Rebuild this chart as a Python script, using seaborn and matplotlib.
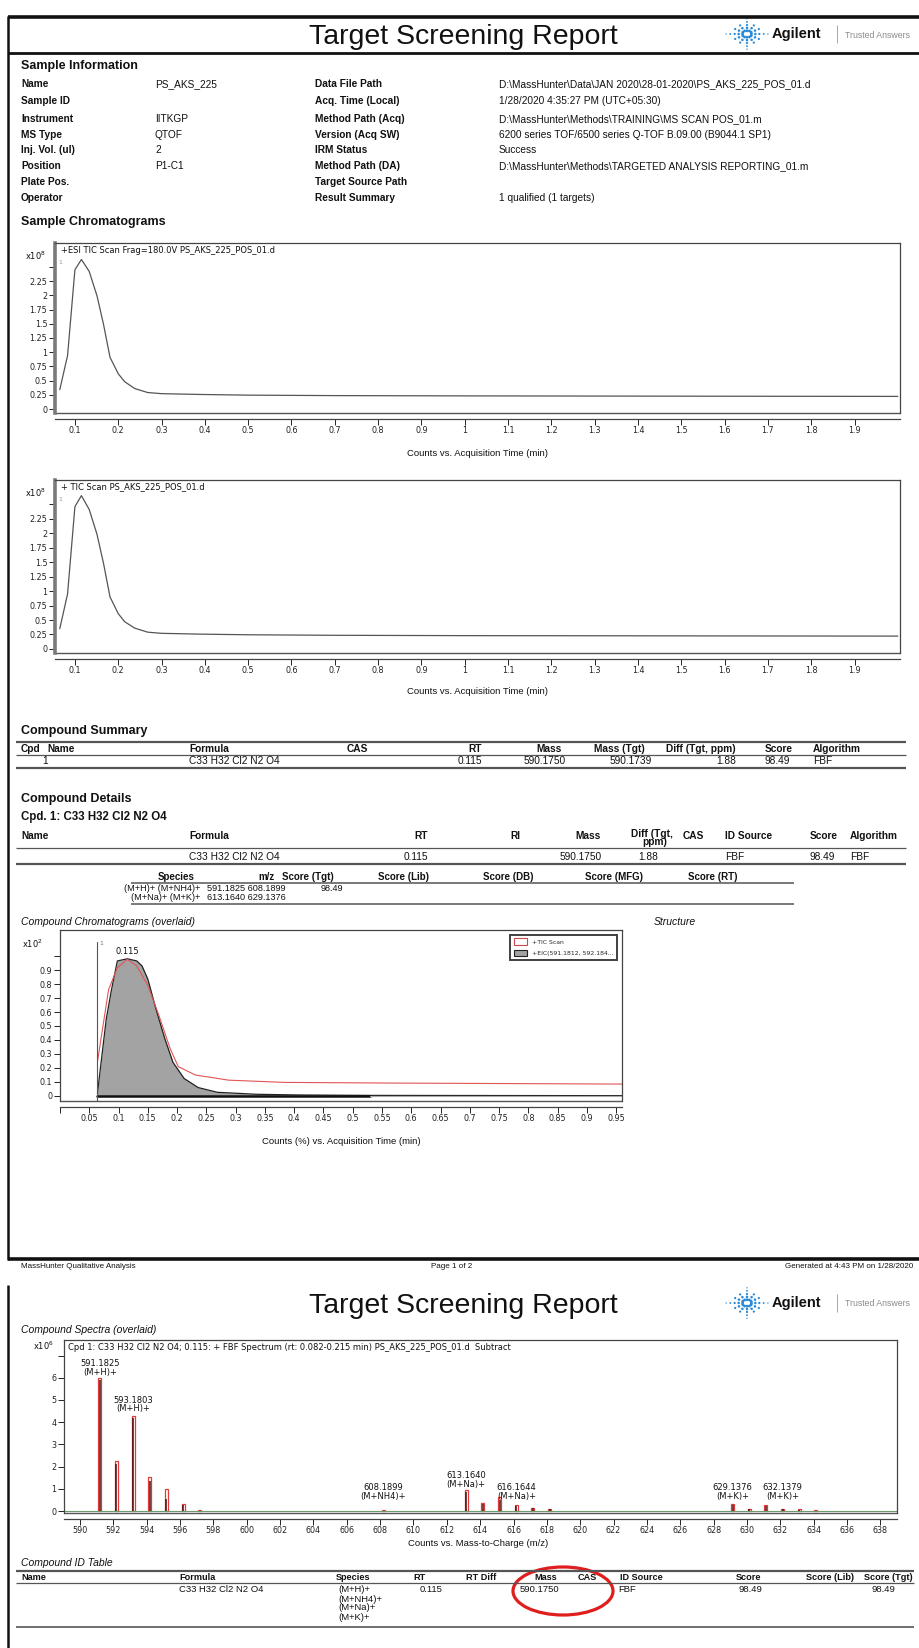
import matplotlib
matplotlib.use("Agg")
import matplotlib.pyplot as plt
from matplotlib.lines import Line2D
from matplotlib.patches import Ellipse, Patch
import numpy as np
import seaborn as sns

# ---------------- data ----------------
# Sample chromatogram 1: +ESI TIC (counts x1e8)
esi_time = [0.065, 0.083, 0.100, 0.115, 0.133, 0.151, 0.166, 0.181, 0.200, 0.215,
            0.238, 0.268, 0.300, 0.390, 0.500, 0.700, 1.000, 1.300, 1.600, 2.000]
esi_counts = [0.34, 0.94, 2.45, 2.63, 2.42, 1.99, 1.49, 0.91, 0.62, 0.48,
              0.36, 0.29, 0.27, 0.256, 0.244, 0.236, 0.231, 0.228, 0.225, 0.222]
# Sample chromatogram 2: + TIC Scan (counts x1e8)
scan_time = [0.065, 0.083, 0.100, 0.115, 0.133, 0.151, 0.166, 0.181, 0.200, 0.215,
             0.238, 0.268, 0.300, 0.390, 0.500, 0.700, 1.000, 1.300, 1.600, 2.000]
scan_counts = [0.35, 0.95, 2.46, 2.65, 2.41, 1.98, 1.48, 0.90, 0.61, 0.47,
               0.36, 0.29, 0.27, 0.256, 0.245, 0.236, 0.230, 0.228, 0.225, 0.222]
time_ticks = [0.1, 0.2, 0.3, 0.4, 0.5, 0.6, 0.7, 0.8, 0.9, 1.0,
              1.1, 1.2, 1.3, 1.4, 1.5, 1.6, 1.7, 1.8, 1.9]
count_ticks = [0, 0.25, 0.5, 0.75, 1, 1.25, 1.5, 1.75, 2, 2.25]

# Compound chromatograms (overlaid), counts in % (x1e2)
eic_time = [0.064, 0.079, 0.088, 0.098, 0.115, 0.131, 0.140, 0.150, 0.164, 0.179,
            0.193, 0.212, 0.236, 0.269, 0.336, 0.410, 0.530, 0.960]
eic_pct = [0.02, 0.55, 0.76, 0.965, 0.98, 0.965, 0.93, 0.835, 0.62, 0.41,
           0.24, 0.125, 0.06, 0.026, 0.012, 0.007, 0.004, 0.002]
tic_time = [0.064, 0.083, 0.098, 0.115, 0.131, 0.150, 0.169, 0.188, 0.202, 0.231,
            0.288, 0.383, 0.574, 0.960]
tic_pct = [0.245, 0.76, 0.917, 0.976, 0.93, 0.79, 0.575, 0.34, 0.21, 0.15,
           0.113, 0.097, 0.092, 0.085]
ovl_time_ticks = [0.0, 0.05, 0.1, 0.15, 0.2, 0.25, 0.3, 0.35, 0.4, 0.45, 0.5,
                  0.55, 0.6, 0.65, 0.7, 0.75, 0.8, 0.85, 0.9, 0.95]
pct_ticks = [0, 0.1, 0.2, 0.3, 0.4, 0.5, 0.6, 0.7, 0.8, 0.9]
peak_rt = 0.115

# Compound spectrum (counts x1e6)
spec_mz = [591.1825, 592.185, 593.1803, 594.183, 595.180, 596.182, 597.18, 608.1899,
           613.1640, 614.167, 615.162, 616.1644, 617.167, 618.165, 629.1376, 630.140,
           631.135, 632.1379, 633.140, 634.140]
spec_fbf = [6.0, 2.26, 4.3, 1.53, 0.98, 0.33, 0.04, 0.04,
            0.93, 0.34, 0.62, 0.25, 0.15, 0.10, 0.30, 0.08,
            0.28, 0.08, 0.10, 0.03]
spec_sub = [5.9, 2.10, 4.2, 1.35, 0.55, 0.28, 0.02, 0.02,
            0.85, 0.30, 0.50, 0.22, 0.12, 0.08, 0.25, 0.08,
            0.22, 0.08, 0.06, 0.02]
label_mz = [591.1825, 593.1803, 608.1899, 613.1640, 616.1644, 629.1376, 632.1379]
label_species = ["(M+H)+", "(M+H)+", "(M+NH4)+", "(M+Na)+", "(M+Na)+", "(M+K)+", "(M+K)+"]
label_base = [6.05, 4.40, 0.45, 1.00, 0.45, 0.45, 0.45]
mz_ticks = list(range(590, 640, 2))
spec_ticks = [0, 1, 2, 3, 4, 5, 6]

# Report text
info_labels_1 = ["Name", "Sample ID", "Instrument", "MS Type", "Inj. Vol. (ul)",
                 "Position", "Plate Pos.", "Operator"]
info_values_1 = ["PS_AKS_225", "", "IITKGP", "QTOF", "2", "P1-C1", "", ""]
info_labels_2 = ["Data File Path", "Acq. Time (Local)", "Method Path (Acq)",
                 "Version (Acq SW)", "IRM Status", "Method Path (DA)",
                 "Target Source Path", "Result Summary"]
info_values_2 = ["D:\\MassHunter\\Data\\JAN 2020\\28-01-2020\\PS_AKS_225_POS_01.d",
                 "1/28/2020 4:35:27 PM (UTC+05:30)",
                 "D:\\MassHunter\\Methods\\TRAINING\\MS SCAN POS_01.m",
                 "6200 series TOF/6500 series Q-TOF B.09.00 (B9044.1 SP1)",
                 "Success",
                 "D:\\MassHunter\\Methods\\TARGETED ANALYSIS REPORTING_01.m",
                 "", "1 qualified (1 targets)"]
formula = "C33 H32 Cl2 N2 O4"

# ---------------- figure setup ----------------
W, H = 920, 1648
sns.set_theme(style="white")
BODY = ["Liberation Sans", "DejaVu Sans"]
CHART = ["DejaVu Sans"]
plt.rcParams["font.family"] = BODY
plt.rcParams["mathtext.default"] = "regular"

fig = plt.figure(figsize=(W / 100, H / 100), dpi=100)
fig.patch.set_facecolor("white")


def fx(x):
    return x / W


def fy(y):
    return 1 - y / H


def txt(x, y, s, size=7.3, weight="normal", ha="left", va="center",
        style="normal", color="#111111", family=None):
    fig.text(fx(x), fy(y), s, fontsize=size, fontweight=weight, ha=ha, va=va,
             fontstyle=style, color=color, family=family or BODY)


def hline(x0, x1, y, lw=1.0, color="#222222"):
    fig.add_artist(Line2D([fx(x0), fx(x1)], [fy(y), fy(y)], lw=lw, color=color,
                          transform=fig.transFigure, solid_capstyle="butt"))


def vline(x, y0, y1, lw=1.0, color="#222222"):
    fig.add_artist(Line2D([fx(x), fx(x)], [fy(y0), fy(y1)], lw=lw, color=color,
                          transform=fig.transFigure, solid_capstyle="butt"))


def add_ax(x0, y0, x1, y1):
    return fig.add_axes([fx(x0), fy(y1), (x1 - x0) / W, (y1 - y0) / H])


def logo(cx, cy):
    ax = fig.add_axes([fx(cx - 22), fy(cy + 16), 44 / W, 32 / H])
    ax.set_xlim(-1, 1)
    ax.set_ylim(-1, 1)
    ax.axis("off")
    pts_x, pts_y, sizes = [], [], []
    for k in range(12):
        ang = np.pi * k / 6
        long_ray = k % 3 == 0
        radii = [0.2, 0.38, 0.56, 0.76, 0.95] if long_ray else [0.22, 0.42, 0.62]
        for j, r in enumerate(radii):
            pts_x.append(r * np.cos(ang))
            pts_y.append(r * np.sin(ang))
            sizes.append(max(4.2 - 0.8 * j, 1.0))
    ax.scatter(pts_x, pts_y, s=sizes, color="#2a8ad6", linewidths=0)


def page_header(y_title):
    txt(463, y_title + 2, "Target Screening Report", size=20.5, ha="center", color="#111111")
    logo(747, y_title - 1)
    txt(772, y_title - 1, "Agilent", size=10.5, weight="bold", color="#111111")
    vline(837, y_title - 10, y_title + 8, lw=0.6, color="#9a9a9a")
    txt(845, y_title, "Trusted Answers", size=6.3, color="#8a8a8a")


def chart_frame(ax, thick_left=True):
    for side in ["top", "right", "bottom", "left"]:
        ax.spines[side].set_visible(True)
        ax.spines[side].set_color("#444444")
        ax.spines[side].set_linewidth(0.9)
    if thick_left:
        ax.spines["left"].set_linewidth(2.6)
        ax.spines["left"].set_color("#7a7a7a")
    ax.spines["bottom"].set_position(("outward", 4))
    ax.plot([0, 1], [0, 0], transform=ax.transAxes, color="#555555", lw=1.0,
            clip_on=False)
    ax.tick_params(axis="both", which="both", direction="out", length=4, width=0.7,
                   bottom=True, left=True, labelsize=5.8, pad=1.5, colors="#222222")
    for lab in ax.get_xticklabels() + ax.get_yticklabels():
        lab.set_family(CHART)
    ax.set_xlabel("")
    ax.set_ylabel("")


def fmt(v):
    return f"{v:g}"


# ---------------- page 1 header ----------------
hline(8, 920, 17, lw=2.6, color="#111111")
vline(8, 16, 1260, lw=1.8, color="#111111")
vline(8, 1285, 1648, lw=1.8, color="#111111")
page_header(35)
hline(8, 920, 53, lw=2.0, color="#111111")

# ---------------- sample information ----------------
txt(21, 66, "Sample Information", size=9, weight="bold")
row_y = [84, 101.5, 118.8, 134.6, 150.4, 166.1, 181.9, 197.7]
for y, a, b, c, d in zip(row_y, info_labels_1, info_values_1, info_labels_2, info_values_2):
    txt(21, y, a, weight="bold")
    txt(155, y, b)
    txt(315, y, c, weight="bold")
    txt(499, y, d)

txt(21, 222, "Sample Chromatograms", size=9, weight="bold")


def sample_chrom(box, t, c, title, xlabel_y):
    ax = add_ax(*box)
    sns.lineplot(x=t, y=c, ax=ax, color="#555555", lw=0.9, estimator=None, sort=False)
    ax.set_xlim(0.054, 2.005)
    ax.set_ylim(-0.07, 2.92)
    ax.set_xticks(time_ticks)
    ax.set_xticklabels([fmt(v) for v in time_ticks])
    ax.set_yticks(count_ticks + [2.5])
    ax.set_yticklabels([fmt(v) for v in count_ticks] + [""])
    chart_frame(ax)
    ax.text(0.007, 0.985, title, transform=ax.transAxes, ha="left", va="top",
            fontsize=6, family=CHART, color="#111111")
    ax.text(0.004, 0.9, "1", transform=ax.transAxes, ha="left", va="top",
            fontsize=4.5, family=CHART, color="#999999")
    txt(36, box[1] + 13, "x10$^8$", size=6, ha="center", family=CHART)
    txt(478, xlabel_y, "Counts vs. Acquisition Time (min)", size=6.8, ha="center")
    return ax


sample_chrom((55, 243, 900, 413), esi_time, esi_counts,
             "+ESI TIC Scan Frag=180.0V PS_AKS_225_POS_01.d", 454)
sample_chrom((55, 480, 900, 653), scan_time, scan_counts,
             "+ TIC Scan PS_AKS_225_POS_01.d", 692)

# ---------------- compound summary ----------------
txt(21, 731, "Compound Summary", size=9, weight="bold")
hline(16, 906, 742, lw=1.6, color="#555555")
sum_head = [(21, "Cpd", "left"), (47, "Name", "left"), (189, "Formula", "left"),
            (347, "CAS", "left"), (482, "RT", "right"), (562, "Mass", "right"),
            (645, "Mass (Tgt)", "right"), (736, "Diff (Tgt, ppm)", "right"),
            (765, "Score", "left"), (813, "Algorithm", "left")]
for x, s, ha in sum_head:
    txt(x, 749, s, weight="bold", ha=ha)
hline(16, 906, 755, lw=0.9, color="#555555")
sum_row = [(42, "1", "left"), (189, formula, "left"), (482, "0.115", "right"),
           (566, "590.1750", "right"), (652, "590.1739", "right"),
           (736, "1.88", "right"), (765, "98.49", "left"), (813, "FBF", "left")]
for x, s, ha in sum_row:
    txt(x, 761.5, s, ha=ha)
hline(16, 906, 768, lw=1.6, color="#555555")

# ---------------- compound details ----------------
txt(21, 799, "Compound Details", size=9, weight="bold")
txt(21, 817, "Cpd. 1: " + formula, size=8.3, weight="bold")
det_head = [(21, "Name", "left"), (189, "Formula", "left"), (428, "RT", "right"),
            (510, "RI", "left"), (601, "Mass", "right"), (683, "CAS", "left"),
            (725, "ID Source", "left"), (810, "Score", "left"), (850, "Algorithm", "left")]
for x, s, ha in det_head:
    txt(x, 836, s, weight="bold", ha=ha)
txt(652, 834, "Diff (Tgt,", weight="bold", ha="center")
txt(655, 842, "ppm)", weight="bold", ha="center")
hline(16, 906, 848, lw=0.9, color="#555555")
det_row = [(189, formula, "left"), (428, "0.115", "right"), (602, "590.1750", "right"),
           (658, "1.88", "right"), (725, "FBF", "left"), (810, "98.49", "left"),
           (850, "FBF", "left")]
for x, s, ha in det_row:
    txt(x, 857, s, ha=ha)
hline(16, 906, 864, lw=1.6, color="#555555")

spc_head = [(158, "Species", "left"), (275, "m/z", "right"), (282, "Score (Tgt)", "left"),
            (378, "Score (Lib)", "left"), (483, "Score (DB)", "left"),
            (585, "Score (MFG)", "left"), (688, "Score (RT)", "left")]
for x, s, ha in spc_head:
    txt(x, 877, s, weight="bold", ha=ha, size=7)
hline(131, 794, 883, lw=1.1, color="#555555")
txt(200, 889, "(M+H)+ (M+NH4)+", size=6.6, ha="right")
txt(200, 897.5, "(M+Na)+ (M+K)+", size=6.6, ha="right")
txt(207, 889, "591.1825 608.1899", size=6.6)
txt(207, 897.5, "613.1640 629.1376", size=6.6)
txt(321, 889, "98.49", size=6.6)
hline(131, 794, 904, lw=1.1, color="#555555")

# ---------------- compound chromatograms (overlaid) ----------------
txt(21, 922, "Compound Chromatograms (overlaid)", size=7.5, style="italic")
txt(654, 922, "Structure", size=7.5, style="italic")
ax3 = add_ax(60, 930, 622, 1101)
ax3.fill_between(eic_time, 0, eic_pct, color="#a3a3a3", lw=0)
sns.lineplot(x=eic_time, y=eic_pct, ax=ax3, color="#222222", lw=0.9,
             estimator=None, sort=False)
sns.lineplot(x=tic_time, y=tic_pct, ax=ax3, color="#e05555", lw=0.8,
             estimator=None, sort=False)
ax3.plot([eic_time[0], 0.53], [0.003, 0.003], color="#111111", lw=1.8)
ax3.plot([0.53, 0.96], [0.003, 0.003], color="#aaaaaa", lw=0.8)
ax3.axvline(eic_time[0], ymin=0.0, ymax=0.93, color="#555555", lw=0.8)
ax3.text(eic_time[0] + 0.004, 1.09, "1", fontsize=4.5, color="#777777", family=CHART,
         va="center")
ax3.text(peak_rt, 1.0, f"{peak_rt:.3f}", fontsize=6, family=CHART, ha="center",
         va="bottom", color="#111111")
ax3.set_xlim(0.0, 0.96)
ax3.set_ylim(-0.036, 1.186)
ax3.set_xticks(ovl_time_ticks)
ax3.set_xticklabels([""] + [fmt(v) for v in ovl_time_ticks[1:]])
ax3.set_yticks(pct_ticks + [1.0])
ax3.set_yticklabels([fmt(v) for v in pct_ticks] + [""])
chart_frame(ax3, thick_left=False)
leg = ax3.legend(handles=[Patch(facecolor="white", edgecolor="#d04848", lw=0.8,
                                label="+TIC Scan"),
                          Patch(facecolor="#a3a3a3", edgecolor="#222222", lw=0.8,
                                label="+EIC(591.1812, 592.184...")],
                 loc="upper right", bbox_to_anchor=(0.997, 0.99),
                 frameon=True, fancybox=False, borderpad=0.6, handlelength=2.2,
                 handleheight=1.2, labelspacing=0.8, prop={"family": CHART, "size": 4.4})
leg.get_frame().set_edgecolor("#111111")
leg.get_frame().set_linewidth(1.4)
txt(32, 944, "x10$^2$", size=6, ha="center", family=CHART)
txt(341, 1141, "Counts (%) vs. Acquisition Time (min)", size=6.8, ha="center")

# ---------------- footer / page 2 header ----------------
hline(8, 920, 1259, lw=2.6, color="#111111")
txt(21, 1266, "MassHunter Qualitative Analysis", size=5.8)
txt(452, 1266, "Page 1 of 2", size=5.8, ha="center")
txt(913, 1266, "Generated at 4:43 PM on 1/28/2020", size=5.8, ha="right")
page_header(1304)

# ---------------- compound spectra ----------------
txt(21, 1330, "Compound Spectra (overlaid)", size=7.5, style="italic")
ax4 = add_ax(64, 1340, 897, 1513)
ax4.axhline(0.02, color="#6e9a6e", lw=0.8)
ax4.bar(spec_mz, spec_fbf, width=0.18, facecolor="white", edgecolor="#e03a3a",
        linewidth=0.9)
ax4.vlines(spec_mz, 0, spec_sub, color="#4a0f0f", lw=1.1)
for mz, sp, yb in zip(label_mz, label_species, label_base):
    ax4.text(mz, yb, f"{mz:.4f}\n{sp}", ha="center", va="bottom", fontsize=6,
             family=CHART, color="#111111", linespacing=0.95)
ax4.set_xlim(589.04, 639.0)
ax4.set_ylim(-0.09, 7.7)
ax4.set_xticks(mz_ticks)
ax4.set_xticklabels([str(v) for v in mz_ticks])
ax4.set_yticks(spec_ticks + [7])
ax4.set_yticklabels([str(v) for v in spec_ticks] + [""])
chart_frame(ax4, thick_left=False)
ax4.text(0.005, 0.985,
         "Cpd 1: " + formula + "; 0.115: + FBF Spectrum (rt: 0.082-0.215 min) "
         "PS_AKS_225_POS_01.d  Subtract",
         transform=ax4.transAxes, ha="left", va="top", fontsize=6, family=CHART,
         color="#111111")
txt(44, 1346, "x10$^6$", size=6, ha="center", family=CHART)
txt(478, 1544, "Counts vs. Mass-to-Charge (m/z)", size=6.8, ha="center")

# ---------------- compound ID table ----------------
txt(21, 1563, "Compound ID Table", size=7.5, style="italic")
hline(16, 914, 1571, lw=1.6, color="#555555")
id_head = [(21, "Name", "left"), (179, "Formula", "left"), (336, "Species", "left"),
           (426, "RT", "right"), (466, "RT Diff", "left"), (557, "Mass", "right"),
           (578, "CAS", "left"), (620, "ID Source", "left"), (736, "Score", "left"),
           (806, "Score (Lib)", "left"), (913, "Score (Tgt)", "right")]
for x, s, ha in id_head:
    txt(x, 1577, s, weight="bold", ha=ha, size=6.6)
hline(16, 914, 1583, lw=0.9, color="#555555")
txt(179, 1590, formula, size=6.8)
for i, sp in enumerate(["(M+H)+", "(M+NH4)+", "(M+Na)+", "(M+K)+"]):
    txt(338, 1590 + 9 * i, sp, size=6.8)
txt(420, 1590, "0.115", size=6.8)
txt(520, 1590, "590.1750", size=6.8)
txt(618, 1590, "FBF", size=6.8)
txt(739, 1590, "98.49", size=6.8)
txt(895, 1590, "98.49", size=6.8, ha="right")
hline(16, 914, 1627, lw=1.2, color="#555555")
fig.add_artist(Ellipse((fx(563), fy(1591)), width=100 / W, height=48 / H,
                       transform=fig.transFigure, fill=False, edgecolor="#e01e1e",
                       lw=2.3))

fig.savefig("out.png", dpi=100, facecolor="white")
